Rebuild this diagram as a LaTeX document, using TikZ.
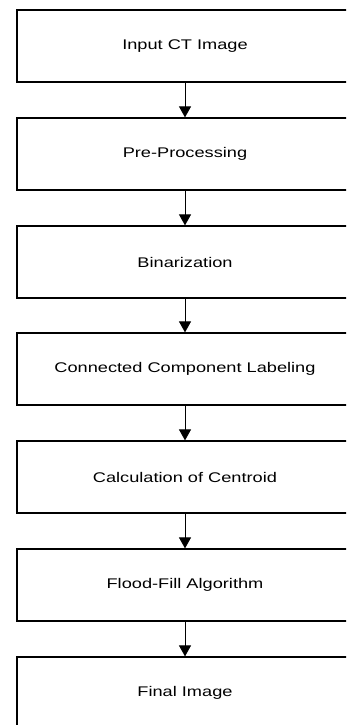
\documentclass[tikz,border=0pt]{standalone}
\usepackage{fontspec}
\newfontfamily\boxfont{Liberation Sans}[FakeStretch=1.3]
\usetikzlibrary{arrows.meta}
\tikzset{
  stepbox/.style={draw=black, line width=1.2pt, rectangle, minimum width=336pt, minimum height=72pt, inner sep=0pt, font=\boxfont\fontsize{14pt}{16pt}\selectfont, text=black},
  flowarrow/.style={draw=black, line width=0.9pt, -{Triangle[width=12pt,length=11pt]}}
}
\begin{document}
\begin{tikzpicture}[x=1pt,y=-1pt]
\clip (0,0) rectangle (346,725);
\useasboundingbox (0,0) rectangle (346,725);
\node[stepbox] (b1) at (185,46) {Input CT Image};
\node[stepbox] (b2) at (185,154) {Pre-Processing};
\node[stepbox] (b3) at (185,262) {Binarization};
\node[stepbox] (b4) at (185,369) {Connected Component Labeling};
\node[stepbox] (b5) at (185,477) {Calculation of Centroid};
\node[stepbox] (b6) at (185,585) {Flood-Fill Algorithm};
\node[stepbox] (b7) at (185,693) {Final Image};
\foreach \a/\b in {b1/b2,b2/b3,b3/b4,b4/b5,b5/b6,b6/b7}
  \draw[flowarrow] (\a.south) -- (\b.north);
\end{tikzpicture}
\end{document}
